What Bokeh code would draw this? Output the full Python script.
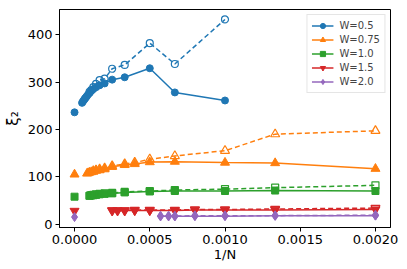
from bokeh.plotting import figure
from bokeh.models import Range1d, FixedTicker, NumeralTickFormatter, Legend, LegendItem
from bokeh.embed import file_html
from bokeh.resources import INLINE

# ---- data ----
labels = ["W=0.5", "W=0.75", "W=1.0", "W=1.5", "W=2.0"]
colors = ["#1f77b4", "#ff7f0e", "#2ca02c", "#d62728", "#9467bd"]
markers = ["circle", "triangle", "square", "inverted_triangle", "diamond"]

# W=0.5
N_05_solid = [20000, 18000, 16000, 15000, 14000, 13000, 12000, 11000, 10000, 9000, 8000, 7000, 6000, 5000, 4000, 3000, 2000, 1500, 1000]
xi_05_solid = [256, 259, 262, 264, 266, 268, 271, 274, 277, 281, 285, 289, 293, 297, 305, 310, 329, 278, 261]
N_05_dash = [10000, 9000, 8000, 7000, 6000, 5000, 4000, 3000, 2000, 1500, 1000]
xi_05_dash = [279, 283, 289, 296, 304, 307, 328, 336, 382, 338, 432]
xi_05_inf = 236

# W=0.75
N_075_solid = [12000, 11000, 10000, 9000, 8000, 7000, 6000, 5000, 4000, 3000, 2500, 2000, 1500, 1000, 750, 500]
xi_075_solid = [107, 108, 109, 110, 111, 113, 114, 116, 121, 125, 127, 131, 132, 130, 129, 117]
N_075_dash = [8000, 7000, 6000, 5000, 4000, 3000, 2500, 2000, 1500, 1000, 750, 500]
xi_075_dash = [112, 114, 116, 118, 123, 127, 130, 137, 144, 155, 190, 197]
xi_075_inf = 105

# W=1.0
N_10_solid = [10000, 9000, 8000, 7000, 6000, 5000, 4000, 3000, 2000, 1500, 1000, 750, 500]
xi_10_solid = [60, 61, 61, 62, 63, 64, 65, 67, 69, 70, 70, 71, 70]
N_10_dash = [10000, 9000, 8000, 7000, 6000, 5000, 4000, 3000, 2000, 1500, 1000, 750, 500]
xi_10_dash = [60, 61, 62, 63, 64, 65, 66, 68, 70, 72, 74, 77, 82]
xi_10_inf = 58

# W=1.5
N_15_solid = [4000, 3500, 3000, 2500, 2000, 1500, 1250, 1000, 750, 500]
xi_15_solid = [29, 29, 29, 29, 29, 29, 30, 30, 30, 31]
N_15_dash = [4000, 3500, 3000, 2500, 2000, 1500, 1250, 1000, 750, 500]
xi_15_dash = [29, 29, 29, 30, 30, 30, 31, 31, 32, 34]
xi_15_inf = 28

# W=2.0
N_20_solid = [1750, 1600, 1500, 1250, 1000, 750, 500]
xi_20_solid = [17, 17, 17, 17, 17, 18, 18]
N_20_dash = [1750, 1600, 1500, 1250, 1000, 750, 500]
xi_20_dash = [17, 17, 17, 18, 18, 18, 19]
xi_20_inf = 15

x_ticks = [0.0, 0.0005, 0.0010, 0.0015, 0.0020]
y_ticks = [0, 100, 200, 300, 400]

series = [
    (N_05_solid, xi_05_solid, N_05_dash, xi_05_dash, xi_05_inf),
    (N_075_solid, xi_075_solid, N_075_dash, xi_075_dash, xi_075_inf),
    (N_10_solid, xi_10_solid, N_10_dash, xi_10_dash, xi_10_inf),
    (N_15_solid, xi_15_solid, N_15_dash, xi_15_dash, xi_15_inf),
    (N_20_solid, xi_20_solid, N_20_dash, xi_20_dash, xi_20_inf),
]
sizes = [7, 9, 7, 9, 9]

FONT = "DejaVu Sans"

p = figure(width=407, height=269, output_backend="svg", toolbar_location=None,
           x_range=Range1d(-0.0001, 0.0021), y_range=Range1d(-7, 453),
           min_border_left=55, min_border_right=17, min_border_top=9, min_border_bottom=42)
p.xgrid.visible = False
p.ygrid.visible = False
p.outline_line_color = "black"
p.outline_line_width = 1
p.background_fill_color = "white"
p.border_fill_color = "white"

for ax in (p.xaxis[0], p.yaxis[0]):
    ax.axis_line_color = "black"
    ax.major_tick_line_color = "black"
    ax.minor_tick_line_color = None
    ax.major_tick_in = 0
    ax.major_tick_out = 4
    ax.major_label_standoff = 3
    ax.major_label_text_font = FONT
    ax.major_label_text_font_size = "13px"
    ax.major_label_text_color = "black"
    ax.axis_label_text_font = FONT
    ax.axis_label_text_font_size = "13px"
    ax.axis_label_text_font_style = "normal"
    ax.axis_label_text_color = "black"

p.xaxis.ticker = FixedTicker(ticks=x_ticks)
p.xaxis.formatter = NumeralTickFormatter(format="0.0000")
p.yaxis.ticker = FixedTicker(ticks=y_ticks)
p.xaxis.axis_label = "1/N"
p.yaxis.axis_label = "ξ₂"
p.yaxis.axis_label_text_font_size = "15px"
p.xaxis.axis_label_standoff = 0
p.yaxis.axis_label_standoff = 3

items = []
for (Ns, ys, Nd, yd, yinf), lab, col, mk, sz in zip(series, labels, colors, markers, sizes):
    xs = [1.0 / n for n in Ns]
    xd = [1.0 / n for n in Nd]
    l1 = p.line(xs, ys, line_color=col, line_width=1.5)
    s1 = p.scatter(xs, ys, marker=mk, size=sz, fill_color=col, line_color=col, line_width=1)
    p.line(xd, yd, line_color=col, line_width=1.5, line_dash="5 3")
    p.scatter(xd, yd, marker=mk, size=sz, fill_color="white", fill_alpha=0.0, line_color=col, line_width=1.2)
    p.scatter([0.0], [yinf], marker=mk, size=sz, fill_color=col, line_color=col)
    items.append(LegendItem(label=lab, renderers=[l1, s1]))

legend = Legend(items=items, location="top_right")
legend.label_text_font = FONT
legend.label_text_font_size = "10px"
legend.glyph_height = 13
legend.label_height = 13
legend.glyph_width = 22
legend.spacing = 1
legend.padding = 4
legend.margin = 5
legend.label_standoff = 6
legend.border_line_color = "#cccccc"
legend.border_line_width = 1
legend.background_fill_alpha = 0.8
p.add_layout(legend, "center")

open("out.html", "w").write(file_html(p, INLINE))
